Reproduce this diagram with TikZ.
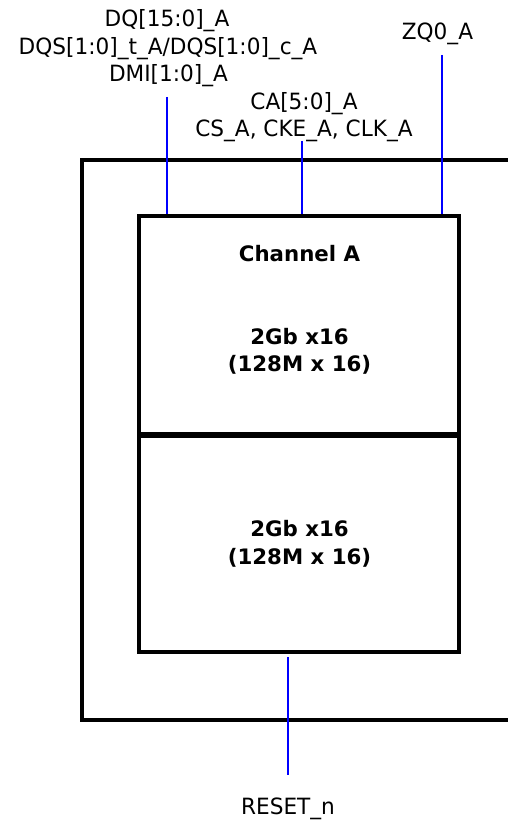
\documentclass[tikz,border=0pt]{standalone}
\usepackage{fontspec}
\setmainfont{DejaVu Sans}
\newfontfamily\lblfont[FakeStretch=0.965]{DejaVu Sans}
\newfontfamily\boldfont{DejaVu Sans Bold}
\begin{document}
\begin{tikzpicture}[x=1pt,y=-1pt,
  lbl/.style={inner sep=0pt, anchor=base, font=\lblfont\fontsize{22.4}{27.5}\selectfont},
  blbl/.style={inner sep=0pt, anchor=base, font=\boldfont\fontsize{21.3}{27}\selectfont},
  chip/.style={draw=black, line width=3.3pt, minimum width=320pt, inner sep=0pt},
  frame/.style={draw=black, line width=3.4pt},
  sig/.style={draw={rgb,255:red,0;green,0;blue,255}, line width=2.8pt}]
\useasboundingbox (0,0) rectangle (508,821);
% outer frame
\draw[frame] (508,160) -- (82,160) -- (82,720) -- (508,720);
% chips
\node[chip, minimum height=218pt] (chA) at (299,325) {};
\node[chip, minimum height=216pt] (chB) at (299,544) {};
% texts in chips
\node[blbl] (tch) at (299.5,261) {Channel A};
\node[blbl] (ta1) at (299.5,344) {2Gb x16};
\node[blbl] (ta2) at (299.5,371.5) {(128M x 16)};
\node[blbl] (tb1) at (299.5,536) {2Gb x16};
\node[blbl] (tb2) at (299.5,564.5) {(128M x 16)};
% top labels
\node[lbl] (dq) at (167,27) {DQ[15:0]\_A};
\node[lbl] (dqs) at (168,55) {DQS[1:0]\_t\_A/DQS[1:0]\_c\_A};
\node[lbl] (dmi) at (168.5,82) {DMI[1:0]\_A};
\node[lbl] (ca) at (304,110) {CA[5:0]\_A};
\node[lbl] (cs) at (304,137) {CS\_A, CKE\_A, CLK\_A};
\node[lbl] (zq) at (437.5,40) {ZQ0\_A};
\node[lbl] (rst) at (288,814) {RESET\_n};
% signal lines
\coordinate (dqend) at (167,97);
\coordinate (caend) at (302,141);
\coordinate (zqend) at (442,55);
\coordinate (rsttop) at (288,657);
\coordinate (rstend) at (288,775);
\draw[sig] (dqend) -- (dqend |- chA.north);
\draw[sig] (caend) -- (caend |- chA.north);
\draw[sig] (zqend) -- (zqend |- chA.north);
\draw[sig] (rsttop) -- (rstend);
\end{tikzpicture}
\end{document}
